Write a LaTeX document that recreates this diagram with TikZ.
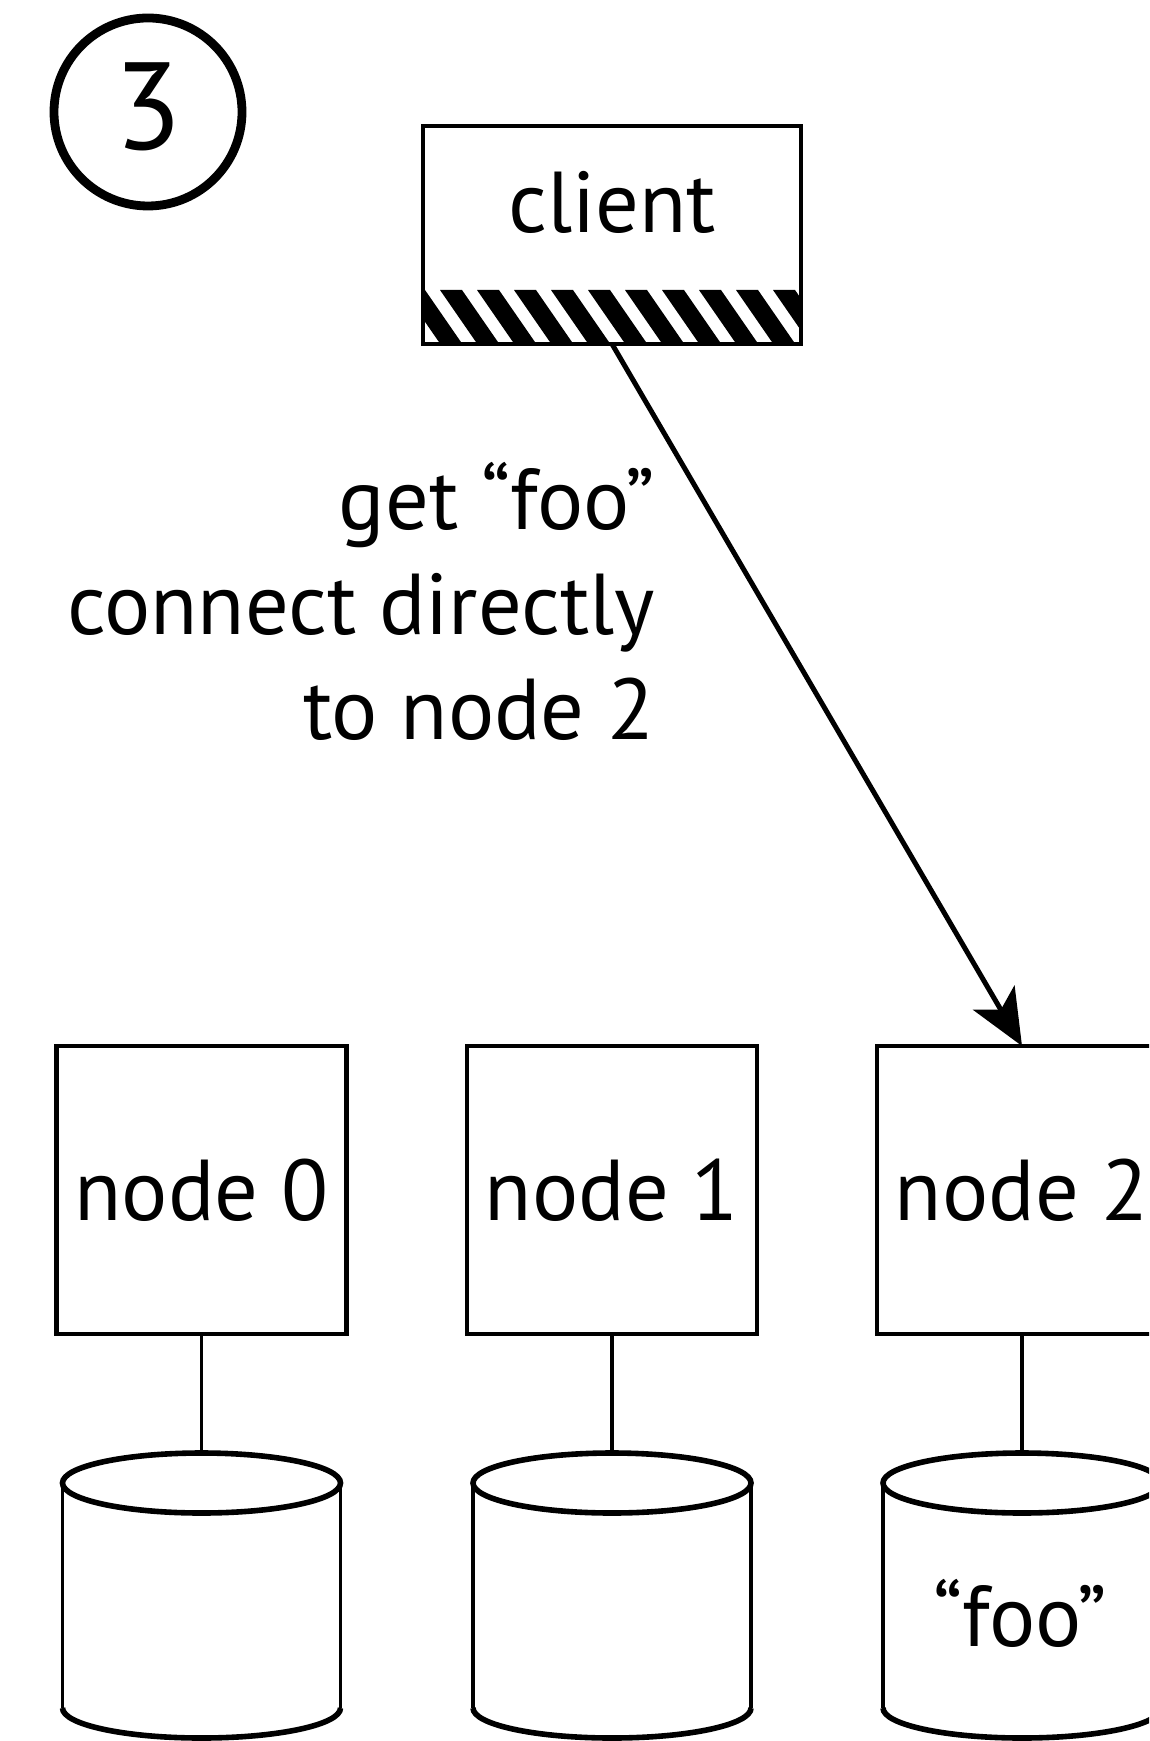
\documentclass[tikz,border=0pt]{standalone}
\usepackage{fontspec}
\setmainfont{PT Sans}
\usetikzlibrary{arrows.meta}
\begin{document}
\begin{tikzpicture}[x=0.25pt,y=-0.25pt,
  every node/.style={font=\fontsize{21.6pt}{26pt}\selectfont, inner sep=0pt, outer sep=0pt},
  server/.style={draw, line width=1.05pt, minimum width=72.5pt, minimum height=72pt},
  clientbox/.style={draw, line width=1.05pt, minimum width=94.5pt, minimum height=54.5pt},
  badge/.style={draw, circle, line width=2.2pt, minimum size=47pt,
    font=\fontsize{31pt}{31pt}\selectfont, text depth=3pt},
  link/.style={line width=0.8pt},
  request/.style={line width=1.25pt, -{Stealth[length=14pt,width=12pt,inset=3.5pt]}},
  rim/.style={line width=1.4pt},
  side/.style={line width=0.8pt}]
\useasboundingbox (0,0) rectangle (1149,1741);
\clip (0,0) rectangle (1149,1741);

% step number
\node[badge] (stepno) at (148,112) {3};

% client with hatched strip along its bottom
\begin{scope}
  \clip (422,290) rectangle (802,345);
  \foreach \i in {-3,...,12}
    \fill (440+37*\i,290) -- ++(22,0) -- ++(38,55) -- ++(-22,0) -- cycle;
\end{scope}
\node[clientbox] (client) at (612,235) {};
\node[anchor=base] (clientlabel) at (612,233) {client};

% request label
\node[anchor=base east] (req1) at (655,530) {get “foo”};
\node[anchor=base east] (req2) at (655,635) {connect directly};
\node[anchor=base east] (req3) at (655,740) {to node 2};

% storage nodes
\node[server] (node0) at (201.5,1190) {node 0};
\node[server] (node1) at (612,1190) {node 1};
\node[server] (node2) at (1022,1190) {node 2};

% disks
\foreach \cx/\n in {201.5/0, 612/1, 1022/2} {
  \coordinate (disk\n) at (\cx,1453);
  \draw[side] (\cx-139,1483) -- (\cx-139,1708);
  \draw[side] (\cx+139,1483) -- (\cx+139,1708);
  \draw[rim] (\cx-139,1708) arc[start angle=180, end angle=0, x radius=139, y radius=30];
  \draw[rim] (\cx,1483) ellipse[x radius=139, y radius=30];
}
\node (foo) at (1020,1613) {“foo”};

% connectors
\draw[link] (node0.south) -- (disk0);
\draw[link] (node1.south) -- (disk1);
\draw[link] (node2.south) -- (disk2);
\draw[request] (client.south) -- (node2.north);
\end{tikzpicture}
\end{document}
